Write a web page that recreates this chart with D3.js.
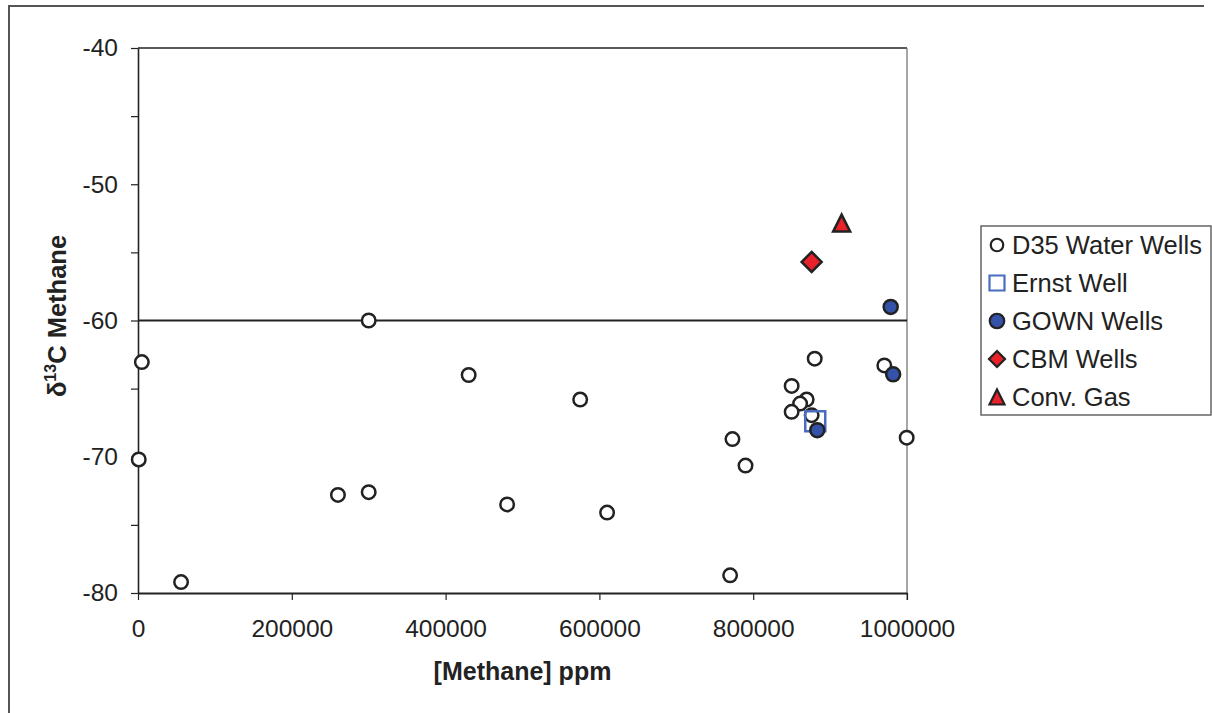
<!DOCTYPE html>
<html>
<head>
<meta charset="utf-8">
<script src="https://cdn.jsdelivr.net/npm/d3@7"></script>
<style>
  body { margin: 0; background: #fff; }
  svg { display: block; font-family: "Liberation Sans", Arial, sans-serif; }
</style>
</head>
<body>
<div id="chart"></div>
<script>
// methane concentration (ppm) vs d13C of methane
var d35X = [5000, 1000, 56000, 260000, 300000, 300000, 430000, 480000, 575000, 610000,
            770000, 773000, 790000, 880000, 850000, 869500, 861000, 850000, 876000, 970500, 999600];
var d35Y = [-63.05, -70.2, -79.2, -72.8, -72.6, -60.0, -64.0, -73.5, -65.8, -74.1,
            -78.7, -68.7, -70.65, -62.8, -64.8, -65.8, -66.1, -66.7, -66.95, -63.3, -68.6];
var ernstX = [880700];
var ernstY = [-67.4];
var gownX = [978800, 982000, 883300];
var gownY = [-59.0, -63.95, -68.05];
var cbmX = [876000];
var cbmY = [-55.7];
var convX = [915000];
var convY = [-52.85];

var seriesNames = ["D35 Water Wells", "Ernst Well", "GOWN Wells", "CBM Wells", "Conv. Gas"];
var xTicks = [0, 200000, 400000, 600000, 800000, 1000000];
var yTicks = [-80, -75, -70, -65, -60, -55, -50, -45, -40];
var refLine = -60;

var W = 1212, H = 713;

var svg = d3.select("#chart").append("svg")
    .attr("width", W)
    .attr("height", H);

// outer frame (only top and left show in the picture)
svg.append("path")
    .attr("d", "M9," + H + "V6H1204")
    .attr("fill", "none")
    .attr("stroke", "#555")
    .attr("stroke-width", 2);

var x = d3.scaleLinear().domain([0, 1000000]).range([138, 907]);
var y = d3.scaleLinear().domain([-80, -40]).range([593, 48]);

// plot frame top + right
svg.append("line")
    .attr("x1", x(0)).attr("x2", x(1000000))
    .attr("y1", y(-40)).attr("y2", y(-40))
    .attr("stroke", "#222").attr("stroke-width", 1.3);
svg.append("line")
    .attr("x1", x(1000000)).attr("x2", x(1000000))
    .attr("y1", y(-40)).attr("y2", y(-80) + 7)
    .attr("stroke", "#777").attr("stroke-width", 1.3);

// y axis
var yAxis = svg.append("g")
    .attr("transform", "translate(" + x(0) + ",0)")
    .call(d3.axisLeft(y).tickValues(yTicks).tickSize(7).tickSizeOuter(0).tickPadding(13)
      .tickFormat(function(d) { return d % 10 === 0 ? String(d) : ""; }));

// x axis
var xAxis = svg.append("g")
    .attr("transform", "translate(0," + y(-80) + ")")
    .call(d3.axisBottom(x).tickValues(xTicks).tickSize(7).tickSizeOuter(0).tickPadding(20)
      .tickFormat(function(d) { return String(d); }));

[yAxis, xAxis].forEach(function(a) {
  a.selectAll("text").attr("font-size", 24.5).attr("fill", "#222").attr("font-family", null);
  a.selectAll(".tick line").attr("stroke", "#222").attr("stroke-width", 1.2);
});
yAxis.select(".domain").attr("stroke", "#222").attr("stroke-width", 1.6);
xAxis.select(".domain").attr("stroke", "#222").attr("stroke-width", 2.2);

// -60 reference line
svg.append("line")
    .attr("x1", x(0)).attr("x2", x(1000000))
    .attr("y1", y(refLine)).attr("y2", y(refLine))
    .attr("stroke", "#222").attr("stroke-width", 2.2);

// axis titles
svg.append("text")
    .attr("x", (x(0) + x(1000000)) / 2)
    .attr("y", 680)
    .attr("text-anchor", "middle")
    .attr("font-size", 25).attr("font-weight", "bold").attr("fill", "#222")
    .text("[Methane] ppm");

var yt = svg.append("text")
    .attr("transform", "translate(66,316) rotate(-90)")
    .attr("text-anchor", "middle")
    .attr("font-size", 25.5).attr("font-weight", "bold").attr("fill", "#222");
yt.append("tspan").text("δ");
yt.append("tspan").attr("font-size", 16).attr("dy", -10).text("13");
yt.append("tspan").attr("dy", 10).text("C Methane");

// marker shapes, s = size in px
function shapePath(type, s) {
  var h = s / 2;
  if (type === "circle") return d3.symbol(d3.symbolCircle, Math.PI * h * h)();
  if (type === "square") return "M" + (-h) + "," + (-h) + "H" + h + "V" + h + "H" + (-h) + "Z";
  if (type === "diamond") return "M0," + (-h) + "L" + h + ",0L0," + h + "L" + (-h) + ",0Z";
  // triangle centred on its bounding box
  return "M0," + (-h) + "L" + h + "," + h + "L" + (-h) + "," + h + "Z";
}

var series = [
  {name: seriesNames[0], xs: d35X, ys: d35Y, type: "circle", size: 13.5, fill: "#fff", stroke: "#222", lsize: 12.5},
  {name: seriesNames[1], xs: ernstX, ys: ernstY, type: "square", size: 20, fill: "none", stroke: "#4a6cc0", lsize: 15},
  {name: seriesNames[2], xs: gownX, ys: gownY, type: "circle", size: 14, fill: "#3452a8", stroke: "#222", lsize: 14.5},
  {name: seriesNames[3], xs: cbmX, ys: cbmY, type: "diamond", size: 20, fill: "#e8212a", stroke: "#222", lsize: 16},
  {name: seriesNames[4], xs: convX, ys: convY, type: "triangle", size: 17, fill: "#e8212a", stroke: "#222", lsize: 15}
];

series.forEach(function(s) {
  svg.append("g").selectAll("path")
    .data(s.xs.map(function(v, i) { return [v, s.ys[i]]; }))
    .enter()
    .append("path")
      .attr("transform", function(d) { return "translate(" + x(d[0]) + "," + y(d[1]) + ")"; })
      .attr("d", shapePath(s.type, s.size))
      .attr("fill", s.fill)
      .attr("stroke", s.stroke)
      .attr("stroke-width", 2.5);
});

// legend
var legend = svg.append("g");
legend.append("rect")
    .attr("x", 981).attr("y", 226)
    .attr("width", 230).attr("height", 189)
    .attr("fill", "#fff")
    .attr("stroke", "#666").attr("stroke-width", 1.5);

var li = legend.selectAll("g.item")
  .data(series)
  .enter()
  .append("g")
    .attr("class", "item")
    .attr("transform", function(d, i) { return "translate(997," + (245 + i * 38) + ")"; });
li.append("path")
    .attr("d", function(d) { return shapePath(d.type, d.lsize); })
    .attr("fill", function(d) { return d.fill; })
    .attr("stroke", function(d) { return d.stroke; })
    .attr("stroke-width", 2.2);
li.append("text")
    .attr("x", 15)
    .attr("y", 9)
    .attr("font-size", 25.5)
    .attr("fill", "#222")
    .text(function(d) { return d.name; });
</script>
</body>
</html>
